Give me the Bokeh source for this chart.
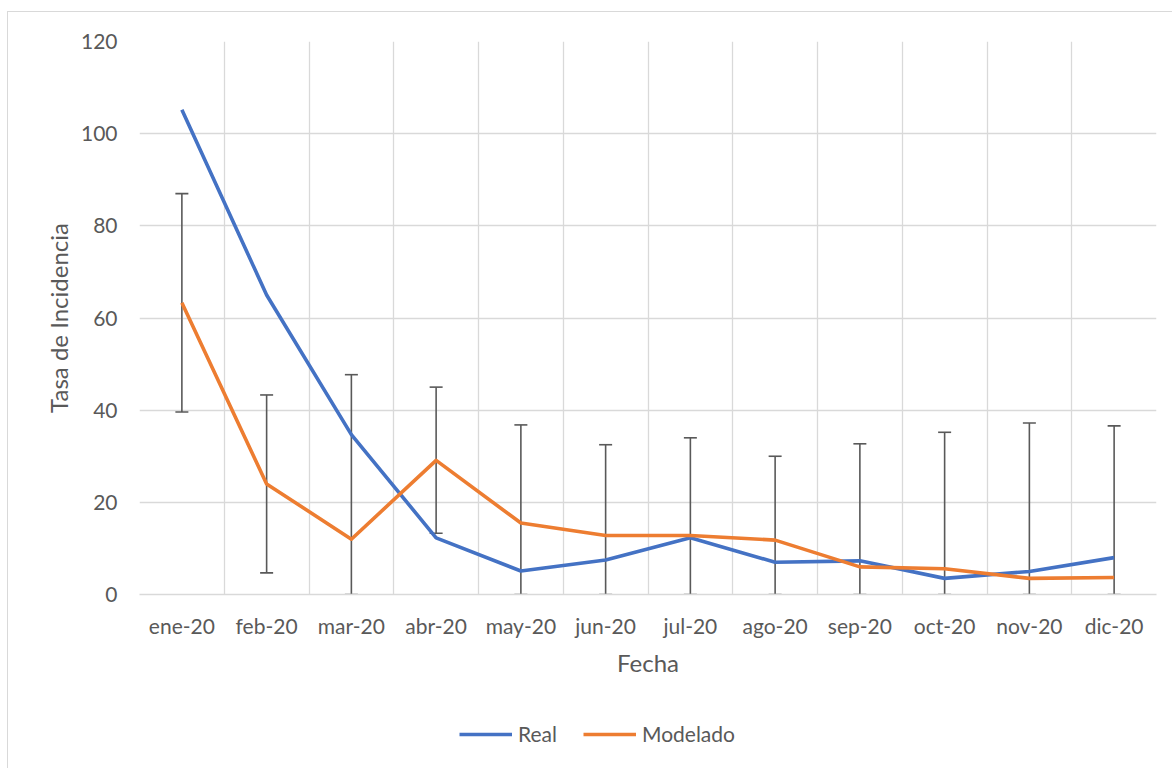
from bokeh.plotting import figure
from bokeh.layouts import column
from bokeh.models import (ColumnDataSource, Whisker, TeeHead, FixedTicker, Legend, LegendItem, Range1d)
from bokeh.embed import file_html
from bokeh.resources import INLINE

months = ["ene-20", "feb-20", "mar-20", "abr-20", "may-20", "jun-20",
          "jul-20", "ago-20", "sep-20", "oct-20", "nov-20", "dic-20"]
real = [105.2, 65.0, 34.7, 12.3, 5.1, 7.5, 12.3, 7.0, 7.3, 3.5, 5.0, 8.0]
modelado = [63.3, 24.0, 12.0, 29.1, 15.5, 12.8, 12.8, 11.8, 6.0, 5.6, 3.5, 3.7]
upper = [87.0, 43.3, 47.7, 45.0, 36.8, 32.5, 34.0, 30.0, 32.7, 35.2, 37.2, 36.6]
lower = [39.6, 4.7, 0.0, 13.3, 0.0, 0.0, 0.0, 0.0, 0.0, 0.0, 0.0, 0.0]
yticks = [0, 20, 40, 60, 80, 100, 120]

xs = [i + 0.5 for i in range(len(months))]
src = ColumnDataSource(dict(x=xs, real=real, modelado=modelado, upper=upper, lower=lower))

FONT = "Lato"
GRAY_TXT = "#595959"
GRID = "#d9d9d9"
BLUE = "#4472C4"
ORANGE = "#ED7D31"

p = figure(width=1164, height=688, output_backend="svg", toolbar_location=None,
           x_range=Range1d(0, len(months)), y_range=Range1d(0, 120),
           min_border_left=131, min_border_right=16, min_border_top=29, min_border_bottom=106)
p.outline_line_color = None
p.background_fill_color = "white"
p.border_fill_color = "white"

# grids
p.xgrid.ticker = FixedTicker(ticks=list(range(len(months) + 1)))
p.xgrid.grid_line_color = GRID
p.xgrid.grid_line_width = 1.3
p.ygrid.ticker = FixedTicker(ticks=yticks)
p.ygrid.grid_line_color = GRID
p.ygrid.grid_line_width = 1.3

# axes
p.xaxis.ticker = FixedTicker(ticks=xs)
p.xaxis.major_label_overrides = {x: m for x, m in zip(xs, months)}
p.yaxis.ticker = FixedTicker(ticks=yticks)
for ax in (p.xaxis[0], p.yaxis[0]):
    ax.major_tick_line_color = None
    ax.minor_tick_line_color = None
    ax.major_label_text_font = FONT
    ax.major_label_text_font_size = "21px"
    ax.major_label_text_color = GRAY_TXT
    ax.axis_label_text_font = FONT
    ax.axis_label_text_font_size = "24px"
    ax.axis_label_text_font_style = "normal"
    ax.axis_label_text_color = GRAY_TXT
p.yaxis.axis_line_color = None
p.xaxis.axis_line_color = GRID
p.xaxis.axis_line_width = 1.3
p.xaxis.axis_label = "Fecha"
p.yaxis.axis_label = "Tasa de Incidencia"
p.xaxis.major_label_standoff = 12
p.xaxis.axis_label_standoff = 7
p.yaxis.major_label_standoff = 16
p.yaxis.axis_label_standoff = 5

p.line("x", "real", source=src, line_color=BLUE, line_width=3.6, line_join="round")

w = Whisker(base="x", upper="upper", lower="lower", source=src,
            line_color="#595959", line_width=1.6,
            upper_head=TeeHead(size=13, line_color="#595959", line_width=1.6),
            lower_head=TeeHead(size=13, line_color="#595959", line_width=1.6))
p.add_layout(w)

p.line("x", "modelado", source=src, line_color=ORANGE, line_width=3.6, line_join="round")

# legend strip below the chart (swatch renderers sit outside its visible range)
lg = figure(width=1164, height=68, output_backend="svg", toolbar_location=None,
            x_axis_type=None, y_axis_type=None, min_border=0,
            x_range=Range1d(0, 1), y_range=Range1d(0, 1))
lg.outline_line_color = None
lg.xgrid.visible = False
lg.ygrid.visible = False
lr = lg.line([-5, -4], [-5, -4], line_color=BLUE, line_width=3.6)
lm = lg.line([-5, -4], [-5, -4], line_color=ORANGE, line_width=3.6)
legend = Legend(items=[LegendItem(label="Real", renderers=[lr]),
                       LegendItem(label="Modelado", renderers=[lm])],
                orientation="horizontal", location=(320, 22),
                padding=0, margin=0, spacing=26, glyph_width=53, glyph_height=24,
                label_standoff=6, border_line_color=None, background_fill_alpha=0,
                label_text_font=FONT, label_text_font_size="21px", label_text_color=GRAY_TXT)
lg.add_layout(legend, "center")

layout = column(p, lg, spacing=0,
                styles={"border-top": "1px solid #d9d9d9", "border-left": "1px solid #d9d9d9",
                        "margin-left": "7px", "margin-top": "11px"})

open("out.html", "w").write(file_html(layout, INLINE))
